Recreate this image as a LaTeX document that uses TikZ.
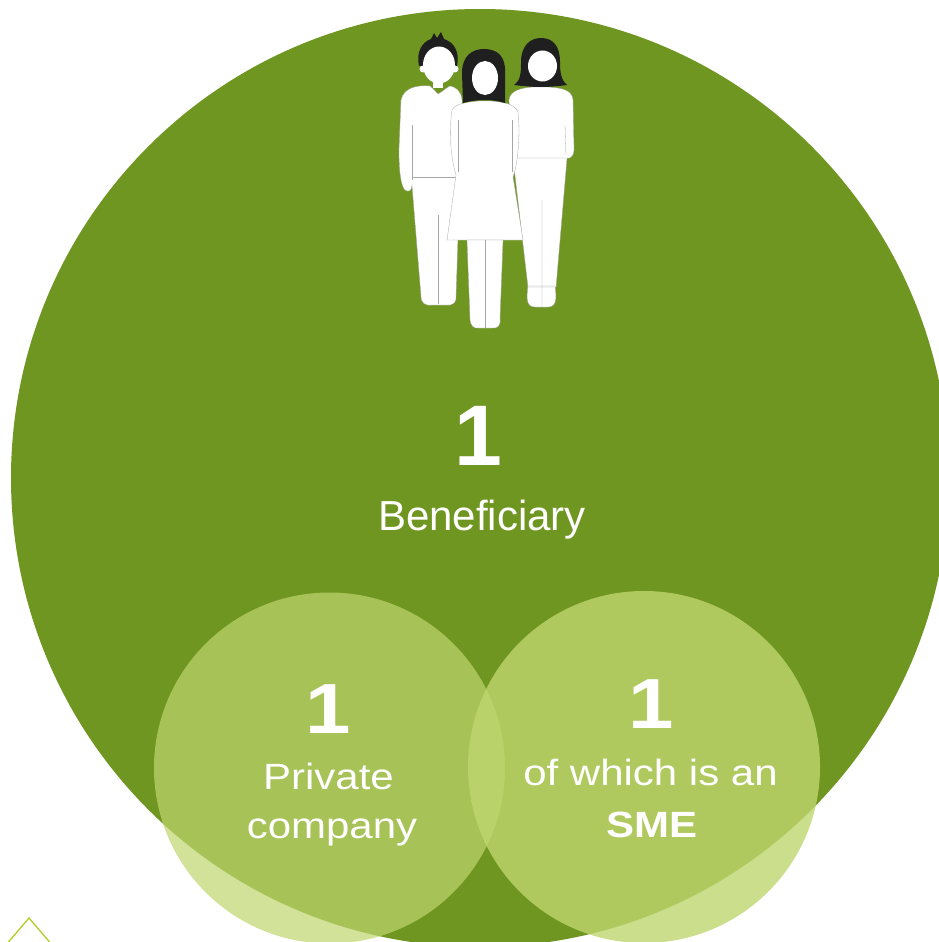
\documentclass[tikz,border=0pt]{standalone}
\usepackage{fontspec}
\setmainfont{Liberation Sans}
\newfontfamily\widesans[FakeStretch=1.15]{Liberation Sans}
\definecolor{leafgreen}{RGB}{111,150,32}
\definecolor{limegreen}{RGB}{191,214,111}
\definecolor{tipgreen}{RGB}{180,205,40}

\begin{document}
\begin{tikzpicture}[x=1pt, y=-1pt,
  figure/.style={fill=white, draw=black!35, line width=0.3pt},
  skin/.style={fill=white},
  hair/.style={fill=black!88},
  seam/.style={draw=black!35, line width=0.3pt},
  bignum/.style={text=white, anchor=base, inner sep=0pt, font=\bfseries\fontsize{86}{86}\selectfont},
  biglabel/.style={text=white, anchor=base, inner sep=0pt, font=\fontsize{42}{42}\selectfont},
  smallnum/.style={text=white, anchor=base, inner sep=0pt, font=\widesans\bfseries\fontsize{71}{71}\selectfont},
  smalllabel/.style={text=white, anchor=base, inner sep=0pt, font=\widesans\fontsize{36.5}{36.5}\selectfont}]
\useasboundingbox (0,0) rectangle (939,942);
\clip (0,0) rectangle (939,942);
\fill[white] (0,0) rectangle (939,942);

% circles
\fill[leafgreen] (480,478) circle (469pt);
\fill[limegreen, fill opacity=0.7] (329.5,768) circle (175.5pt);
\fill[limegreen, fill opacity=0.8] (644,767) circle (176pt);
\draw[tipgreen, line width=1.3pt] (5,946) -- (29,918) -- (53,946);

% woman at the back
\filldraw[figure] (533,87) -- (548,87) .. controls (560,88) and (572,89) .. (573,100) -- (574,150) .. controls (574,156) and (570,159) .. (567,158) -- (556,287) -- (528,287) -- (513,158) -- (509,100) .. controls (510,91) and (520,88) .. (533,87) -- cycle;
\filldraw[figure] (528,286) .. controls (526,300) and (527,307) .. (535,307) -- (548,307) .. controls (556,307) and (557,300) .. (555,286) -- cycle;
\draw[seam] (514,158) -- (566,158) (565,125) -- (566,155) (542,200) -- (542,307) (528,287) -- (555,287);
\fill[hair] (514,85) .. controls (521,80) and (521,72) .. (521,62) .. controls (521,46) and (530,38) .. (541,38) .. controls (553,38) and (560,46) .. (560,62) .. controls (560,72) and (561,80) .. (567,85) .. controls (560,86) and (550,87) .. (541,87) .. controls (532,87) and (522,86) .. (514,85) -- cycle;
\fill[skin] (542.5,66) ellipse (14.5pt and 15.5pt);

% man
\fill[hair] (419,66) .. controls (416,52) and (422,42) .. (431,39) -- (434,33) -- (437,38) -- (441,32) -- (444,39) .. controls (453,42) and (460,50) .. (457,66) -- cycle;
\filldraw[figure] (430,86) .. controls (418,85) and (404,87) .. (401,100) -- (399,150) .. controls (399,172) and (401,186) .. (405,190) .. controls (409,193) and (412,190) .. (412,185) -- (421,296) .. controls (421,303) and (425,306) .. (432,305) -- (446,305) .. controls (453,306) and (457,302) .. (456,296) -- (460,177) -- (462,100) .. controls (461,91) and (456,87) .. (450,86) .. controls (446,88) and (442,92) .. (438,94) .. controls (435,91) and (433,88) .. (430,86) -- cycle;
\draw[seam] (412,177) -- (459,177) (412,125) -- (412,180) (438,215) -- (438,304);
\fill[skin] (433,78) rectangle (443,88);
\fill[skin] (439,65) ellipse (16pt and 18.5pt);
\fill[skin] (423,69) circle (3.5pt) (455,69) circle (3.5pt);

% woman in front
\filldraw[figure] (479,101) .. controls (466,102) and (455,104) .. (452,110) .. controls (449,130) and (450,155) .. (456,175) -- (447,240) -- (523,240) -- (513,177) .. controls (519,160) and (520,130) .. (518,112) .. controls (515,104) and (503,102) .. (491,101) -- cycle;
\filldraw[figure] (467,240) -- (470,318) .. controls (470,326) and (474,329) .. (479,328) -- (492,328) .. controls (498,329) and (501,325) .. (500,318) -- (503,240) -- cycle;
\draw[seam] (458,120) -- (458,172) (512,120) -- (512,172) (485,240) -- (485,328);
\fill[hair] (463,103) -- (462,73) .. controls (462,56) and (472,49) .. (484,49) .. controls (497,49) and (506,56) .. (505,73) -- (505,103) .. controls (498,101) and (492,100) .. (485,100) .. controls (478,100) and (470,101) .. (463,103) -- cycle;
\fill[skin] (485,78) ellipse (13pt and 17pt);

% labels
\node[bignum] (total) at (478.5,465) {1};
\node[biglabel] (benef) at (482,530) {Beneficiary};
\node[smallnum] (privnum) at (328.5,733) {1};
\node[smalllabel] (priv) at (328.5,789) {Private};
\node[smalllabel] (comp) at (332,838) {company};
\node[smallnum] (smenum) at (651,728) {1};
\node[smalllabel] (ofwhich) at (650.5,785) {of which is an};
\node[smalllabel, font=\widesans\bfseries\fontsize{36.5}{36.5}\selectfont] (sme) at (652,837) {SME};
\end{tikzpicture}
\end{document}
